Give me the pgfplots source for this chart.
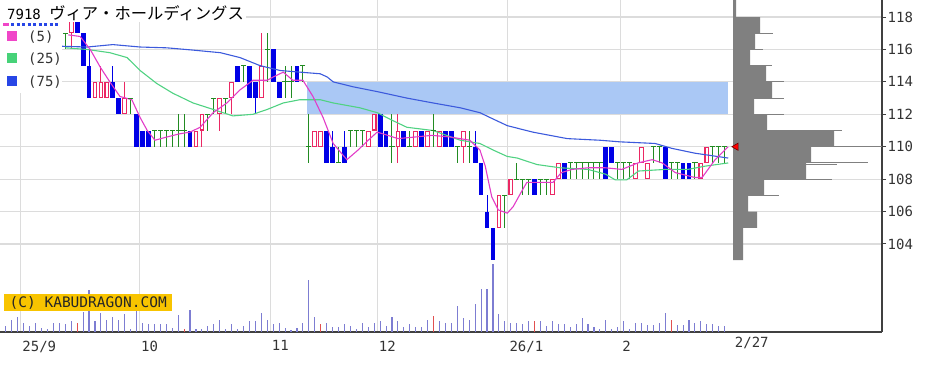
\documentclass[border=0pt]{standalone}
\usepackage{pgfplots}
\pgfplotsset{compat=1.18}
\usepackage{pgfplotstable}
\usepackage{fontspec}
\setmainfont{DejaVu Sans Mono}
\newfontfamily\jp{Noto Sans CJK JP}

\definecolor{cred}{RGB}{235,40,100}
\definecolor{cblue}{RGB}{0,0,230}
\definecolor{cgreen}{RGB}{34,139,34}
\definecolor{mafive}{RGB}{226,60,200}
\definecolor{matwf}{RGB}{80,210,130}
\definecolor{masev}{RGB}{60,90,220}
\definecolor{shade}{RGB}{170,200,245}
\definecolor{vol}{RGB}{125,125,210}
\definecolor{volred}{RGB}{225,80,80}
\definecolor{gridc}{RGB}{220,220,220}
\definecolor{histc}{RGB}{128,128,128}
\definecolor{kyellow}{RGB}{248,196,0}
\definecolor{lpink}{RGB}{240,70,200}
\definecolor{lgreen}{RGB}{70,210,120}
\definecolor{lblue}{RGB}{40,70,230}

% candles: i open high low close
\pgfplotstableread{
i o h l c
8 117 118 116 118
12 113 114 113 114
13 113 115 113 114
14 113 114 113 114
17 112 114 112 113
29 110 111 110 111
30 111 112 110 112
33 112 113 111 113
35 113 114 112 114
40 113 117 113 115
49 110 111 110 111
50 110 111 110 111
58 110 111 110 111
59 111 112 111 112
63 110 112 109 111
66 110 111 110 111
68 110 111 110 111
70 110 111 110 111
74 110 111 109 111
80 105 107 105 107
82 107 108 107 108
89 107 108 107 108
90 108 109 108 109
103 108 109 108 109
104 109 110 109 110
105 108 109 108 109
114 108 109 108 109
115 109 110 109 110
}\tblup

\pgfplotstableread{
i o h l c
9 118 118 117 117
10 117 117 115 115
11 115 116 113 113
15 114 115 113 113
16 113 113 112 112
19 112 112 110 110
20 111 111 110 110
21 111 111 110 110
28 111 111 110 110
36 115 115 114 114
38 115 115 113 113
39 114 114 112 113
42 116 116 114 114
43 114 114 113 113
46 115 115 114 114
51 111 111 109 109
52 110 111 109 109
54 110 111 109 109
60 112 112 110 110
61 111 111 110 110
64 111 111 110 110
67 111 111 110 110
71 111 111 110 110
72 111 111 110 110
76 110 111 109 109
77 109 109 107 107
78 106 107 105 105
79 105 105 103 103
86 108 108 107 107
91 109 109 108 108
98 110 110 108 108
99 110 110 109 109
108 110 110 108 108
111 109 109 108 108
112 109 109 108 108
}\tbldn

\pgfplotstableread{
i o h l c
7 117 117 116 117
18 113 113 112 113
22 111 111 110 111
23 111 111 110 111
24 111 111 110 111
25 111 111 110 111
26 111 112 110 111
27 111 112 110 111
31 112 112 111 112
32 113 113 112 113
34 113 113 112 113
37 115 115 114 115
41 116 117 114 116
44 114 115 113 114
45 114 115 113 114
47 115 115 114 115
48 110 112 109 110
53 109 110 109 109
55 111 111 110 111
56 111 111 110 111
57 111 111 110 111
62 110 112 109 110
65 110 111 110 110
69 111 112 110 111
73 110 110 109 110
75 110 111 109 110
81 107 107 105 107
83 108 109 108 108
84 108 108 107 108
85 108 108 107 108
87 108 108 107 108
88 108 108 107 108
92 109 109 108 109
93 109 109 108 109
94 109 109 108 109
95 109 109 108 109
96 109 109 108 109
97 109 109 108 109
100 109 109 108 109
101 109 109 108 109
102 109 109 108 109
106 110 110 109 110
107 110 110 109 110
109 109 109 108 109
110 109 109 108 109
113 109 109 108 109
116 110 110 109 110
117 110 110 109 110
118 110 110 109 110
}\tbldoji

\pgfplotstableread{
i v
-3 6
-2 12
-1 15
0 9
1 6
2 9
3 4
4 3
5 9
6 9
7 8
8 11
10 20
11 42
12 11
13 19
14 12
15 15
16 12
17 18
18 3
19 21
20 9
21 8
22 8
23 8
24 8
25 4
26 17
28 22
29 3
30 3
31 6
32 8
33 12
34 3
35 8
36 3
37 6
38 11
39 11
40 19
41 12
42 8
43 9
44 4
45 2
46 4
47 9
48 52
49 15
51 9
52 5
53 5
54 8
55 6
56 3
57 9
58 5
59 9
60 11
61 6
62 15
63 11
64 5
65 8
66 5
67 5
68 12
70 11
71 9
72 9
73 26
74 14
75 12
76 28
77 43
78 43
79 68
80 18
81 11
82 9
83 9
84 8
85 11
87 11
88 6
89 11
90 8
91 8
92 5
93 8
94 14
95 8
96 5
97 3
98 12
99 3
100 5
101 11
102 3
103 9
104 9
105 7
106 7
107 9
108 19
110 7
111 7
112 12
113 9
114 11
115 8
116 8
117 6
118 6
}\tblvol

\pgfplotstableread{
i v
9 9
27 3
50 8
69 16
86 11
109 12
}\tblvolred

\pgfplotsset{
  base/.style={at={(0pt,0pt)}, anchor=north west, scale only axis,
    width=882pt, height=332pt},
  wick/.style={draw=none, no markers, forget plot,
    error bars/.cd, y dir=both, y explicit, error mark=none,
    error bar style={draw=#1, line width=1pt}},
  body/.style 2 args={draw=none, no markers, forget plot,
    error bars/.cd, y dir=both, y explicit, error mark=none,
    error bar style={draw=#1, line width=#2}},
}

\begin{document}
\begin{tikzpicture}
\path[use as bounding box] (0pt,0pt) rectangle (938pt,-368pt);

% ---------- price axis ----------
\begin{axis}[base,
  xmin=-3.99, xmax=144.49, ymin=98.57, ymax=119.05,
  axis x line*=bottom, axis y line*=right,
  axis line style={-, draw=black!75, line width=1.3pt},
  ytick={104,106,...,118},
  xtick={-0.5,19.5,41.5,59.5,81.5,100.5},
  xticklabels={25/9,10,11,12,26/1,2},
  extra x ticks={119.45}, extra x tick labels={2/27},
  extra x tick style={grid=none, major tick length=0pt},
  grid=major, grid style={gridc, line width=1.2pt},
  xtick style={draw=none},
  ytick style={draw=black!75, line width=1pt},
  tick align=outside, major tick length=4pt,
  xticklabel style={anchor=north west, inner sep=0pt, xshift=1.5pt, yshift=-4.5pt,
    font=\fontsize{14}{14}\selectfont, text=black!80},
  yticklabel style={anchor=west, inner sep=0pt, xshift=1.5pt,
    font=\fontsize{14}{14}\selectfont, text=black!80},
  /pgf/number format/assume math mode=true,
]
% shaded zone
\addplot[fill=shade, draw=none, forget plot] coordinates
  {(47.69,112) (118.57,112) (118.57,114) (47.69,114)} -- cycle;

% up candles (red hollow)
\addplot[wick=cred] table[x=i, y expr={(\thisrow{h}+\thisrow{l})/2}, y error expr={(\thisrow{h}-\thisrow{l})/2}] {\tblup};
\addplot[body={cred}{4.8pt}] table[x=i, y expr={(\thisrow{o}+\thisrow{c})/2}, y error expr={abs(\thisrow{c}-\thisrow{o})/2}] {\tblup};
\addplot[body={white}{2.6pt}] table[x=i, y expr={(\thisrow{o}+\thisrow{c})/2}, y error expr={abs(\thisrow{c}-\thisrow{o})/2-0.065}] {\tblup};
% down candles (blue filled)
\addplot[wick=cblue] table[x=i, y expr={(\thisrow{h}+\thisrow{l})/2}, y error expr={(\thisrow{h}-\thisrow{l})/2}] {\tbldn};
\addplot[body={cblue}{4.8pt}] table[x=i, y expr={(\thisrow{o}+\thisrow{c})/2}, y error expr={abs(\thisrow{c}-\thisrow{o})/2}] {\tbldn};
% doji (green)
\addplot[wick=cgreen] table[x=i, y expr={(\thisrow{h}+\thisrow{l})/2}, y error expr={(\thisrow{h}-\thisrow{l})/2}] {\tbldoji};
\addplot[only marks, mark=-, mark size=2.6pt, mark options={draw=cgreen, line width=1.1pt}, forget plot] table[x=i, y=o] {\tbldoji};

% moving averages
\addplot[masev, line width=1.1pt, mark=none] coordinates {
(6.1,116.2) (10.7,116.15) (15.0,116.3) (19.6,116.15) (24.1,116.1) (28.5,115.96)
(33.1,115.8) (36.4,115.5) (39.8,115.0) (43.2,114.7) (46.5,114.6) (49.9,114.5)
(51.1,114.3) (52.1,114.0) (55.4,113.7) (59.5,113.4) (64.5,113.0) (68.9,112.7)
(73.5,112.4) (76.8,112.1) (78.5,111.8) (81.4,111.3) (85.7,110.9) (91.5,110.5)
(97.0,110.4) (100.4,110.3) (106.3,110.2) (109.1,109.9) (113.0,109.6) (118.6,109.3)};
\addplot[matwf, line width=1.1pt, mark=none] coordinates {
(7.0,116.1) (10.7,116.0) (14.5,115.8) (17.4,115.5) (19.6,114.7) (22.4,113.9)
(25.1,113.3) (28.5,112.7) (31.9,112.3) (35.2,111.9) (38.6,112.0) (41.0,112.3)
(43.7,112.7) (46.5,112.9) (49.9,112.9) (52.1,112.7) (56.6,112.4) (59.5,112.1)
(62.2,111.6) (64.5,111.2) (68.9,111.0) (73.5,110.4) (76.8,110.2) (79.0,109.8)
(81.4,109.4) (83.1,109.3) (86.4,108.9) (90.3,108.7) (95.0,108.6) (98.0,108.3)
(99.6,107.95) (101.5,107.95) (103.5,108.5) (108.0,108.6) (111.8,108.6) (114.7,108.8) (118.6,109.0)};
\addplot[mafive, line width=1.1pt, mark=none] coordinates {
(7.5,116.9) (9.5,116.8) (11.2,116.0) (12.9,114.9) (14.5,114.0) (16.2,113.1)
(18.2,112.9) (19.6,111.8) (20.8,111.0) (22.1,110.4) (24.1,110.6) (26.3,110.8)
(28.0,110.9) (29.7,111.2) (31.9,112.1) (34.2,112.7) (36.4,113.5) (38.6,114.1)
(41.0,114.1) (42.0,114.3) (43.7,114.6) (45.3,114.1) (47.0,114.1) (48.7,113.1)
(50.4,111.8) (52.1,110.2) (54.4,109.2) (56.3,109.8) (58.0,110.4) (59.5,110.9)
(61.3,110.7) (63.0,110.5) (65.9,110.6) (68.7,110.7) (71.8,110.6) (75.1,110.4)
(76.8,109.8) (77.7,108.8) (78.8,106.9) (79.9,106.1) (81.4,105.9) (82.4,106.3)
(83.6,107.1) (84.7,107.8) (86.9,107.8) (89.1,107.8) (90.5,108.4) (92.3,108.6)
(95.0,108.7) (97.9,108.7) (100.7,108.6) (103.4,109.0) (105.8,109.2) (107.5,109.0)
(109.7,108.4) (113.0,108.1) (114.2,108.1) (116.4,109.2) (118.6,110.0)};
\end{axis}

% ---------- volume axis ----------
\begin{axis}[base, hide axis, xmin=-3.99, xmax=144.49, ymin=0, ymax=332]
\addplot[ycomb, vol, line width=1.1pt, mark=none] table[x=i, y=v] {\tblvol};
\addplot[ycomb, volred, line width=1.1pt, mark=none] table[x=i, y=v] {\tblvolred};
\end{axis}

% ---------- volume-by-price histogram ----------
\begin{axis}[base, hide axis, xmin=0, xmax=882, ymin=98.57, ymax=119.05,
  unbounded coords=jump, clip=false]
\addplot[fill=histc, draw=none] coordinates {
(733,119.05) (736,119.05) (736,118) (760,118) (760,117) (755,117) (755,116)
(750,116) (750,115) (766,115) (766,114) (772,114) (772,113) (754,113) (754,112)
(767,112) (767,111) (834,111) (834,110) (811,110) (811,109) (806,109) (806,108)
(764,108) (764,107) (748,107) (748,106) (757,106) (757,105) (743,105) (743,103)
(733,103)} -- cycle;
\addplot[histc, line width=1pt, mark=none] coordinates {
(733,117) (773,117) (nan,nan)
(733,116) (763,116) (nan,nan)
(733,115) (772,115) (nan,nan)
(733,114) (784,114) (nan,nan)
(733,113) (784,113) (nan,nan)
(733,112) (784,112) (nan,nan)
(733,111) (842,111) (nan,nan)
(733,110) (882,110) (nan,nan)
(733,109.02) (868,109.02) (nan,nan)
(733,108.9) (837,108.9) (nan,nan)
(733,108) (832,108) (nan,nan)
(733,107) (779,107)};
\addplot[only marks, mark=triangle*, mark size=4.2pt,
  mark options={rotate=90, fill=red, draw=red!45!black, line width=0.6pt}]
  coordinates {(736,110)};
\end{axis}

% ---------- title, legend, credit ----------
\fill[white] (0pt,0pt) rectangle (246pt,-22pt);
\fill[white] (0pt,-22pt) rectangle (62pt,-93pt);
\node[anchor=base west, inner sep=0pt] at (7pt,-19pt)
  {\fontsize{14}{14}\selectfont 7918 {\jp\fontsize{16.3}{16.3}\selectfont ヴィア・ホールディングス}};
\draw[lpink, line width=2.5pt] (3pt,-24.5pt) -- (9pt,-24.5pt);
\draw[lblue, line width=2.5pt, dash pattern=on 3pt off 2.5pt] (11pt,-24.5pt) -- (58pt,-24.5pt);
\fill[lpink] (7pt,-31pt) rectangle (17pt,-41pt);
\fill[lgreen] (7pt,-53pt) rectangle (17pt,-63pt);
\fill[lblue] (7pt,-76pt) rectangle (17pt,-86pt);
\node[anchor=west, inner sep=0pt, text=black!80] at (28pt,-37pt) {\fontsize{14}{14}\selectfont (5)};
\node[anchor=west, inner sep=0pt, text=black!80] at (28pt,-59pt) {\fontsize{14}{14}\selectfont (25)};
\node[anchor=west, inner sep=0pt, text=black!80] at (28pt,-82pt) {\fontsize{14}{14}\selectfont (75)};
\node[anchor=north west, fill=kyellow, inner sep=0pt, minimum width=168pt, minimum height=17pt,
  text=black!85] at (4pt,-294pt) {\fontsize{14.5}{14.5}\selectfont (C) KABUDRAGON.COM};
\end{tikzpicture}
\end{document}
